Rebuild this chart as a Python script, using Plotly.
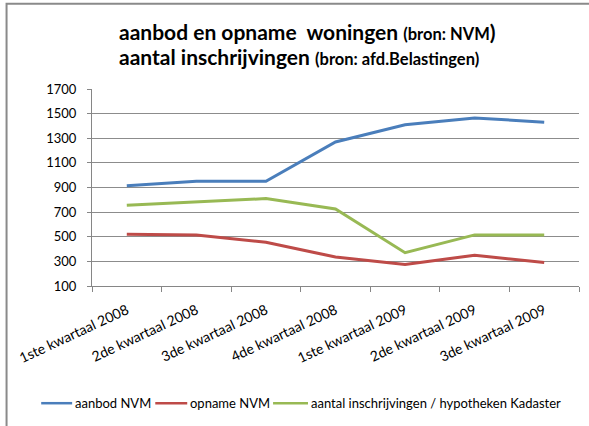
import plotly.graph_objects as go

categories = ["1ste kwartaal 2008", "2de kwartaal 2008", "3de kwartaal 2008", "4de kwartaal 2008",
              "1ste kwartaal 2009", "2de kwartaal 2009", "3de kwartaal 2009"]
aanbod = [915, 950, 950, 1270, 1410, 1465, 1430]
opname = [520, 515, 455, 335, 275, 350, 290]
inschrijvingen = [755, 785, 810, 725, 370, 515, 515]
y_ticks = [100, 300, 500, 700, 900, 1100, 1300, 1500, 1700]
series_names = ["aanbod NVM", "opname NVM", "aantal inschrijvingen / hypotheken Kadaster"]
series_colors = ["#4a7ebb", "#be4b48", "#98b954"]

FONT = "Lato, Carlito, Calibri, sans-serif"

fig = go.Figure()
for vals, name, col in zip([aanbod, opname, inschrijvingen], series_names, series_colors):
    fig.add_trace(go.Scatter(x=categories, y=vals, mode="lines", name=name,
                             line=dict(color=col, width=3), showlegend=False))

L, R, T, B = 91.6, 579.5, 89, 286.5
W, H = 589, 426
pw, ph = R - L, B - T

def px(x):
    return (x - L) / pw

def py(y):
    return (B - y) / ph

# manual legend (positions in pixels)
leg_y = 404
leg_lines = [(40.7, 71.7), (155, 187), (273, 308)]
shapes = [dict(type="rect", xref="paper", yref="paper", x0=px(6), x1=px(620), y0=py(460), y1=py(3.5),
               line=dict(color="#8a8a8a", width=2), fillcolor="rgba(0,0,0,0)", layer="below")]
annotations = [
    dict(xref="paper", yref="paper", x=px(117), y=py(31), xanchor="left", yanchor="middle",
         showarrow=False,
         text="<b>aanbod en opname&nbsp; woningen <span style='font-size:16.5px'>(bron: NVM</span>)</b>",
         font=dict(size=21, family=FONT)),
    dict(xref="paper", yref="paper", x=px(117), y=py(56), xanchor="left", yanchor="middle",
         showarrow=False,
         text="<b>aantal inschrijvingen <span style='font-size:16.5px'>(bron: afd.Belastingen)</span></b>",
         font=dict(size=21, family=FONT)),
]
for (x0, x1), name, col in zip(leg_lines, series_names, series_colors):
    shapes.append(dict(type="line", xref="paper", yref="paper", x0=px(x0), x1=px(x1),
                       y0=py(leg_y), y1=py(leg_y), line=dict(color=col, width=2.5)))
    annotations.append(dict(xref="paper", yref="paper", x=px(x1 + 1), y=py(leg_y), xanchor="left",
                            yanchor="middle", showarrow=False, text=name,
                            font=dict(size=13, family=FONT)))

fig.update_layout(
    width=W, height=H,
    margin=dict(l=L, r=W - R, t=T, b=H - B, autoexpand=False),
    paper_bgcolor="white", plot_bgcolor="white",
    font=dict(family=FONT, size=13, color="#000000"),
    showlegend=False,
    xaxis=dict(type="category", showgrid=False, showline=True, linecolor="#868686", linewidth=1,
               ticks="outside", tickson="boundaries", ticklen=5, tickcolor="#868686",
               tickangle=-25, tickfont=dict(size=14), ticklabelstandoff=10,
               range=[-0.5, 6.5], automargin=False),
    yaxis=dict(range=[100, 1700], tickvals=y_ticks, showgrid=True, gridcolor="#8c8c8c", gridwidth=1,
               showline=True, linecolor="#868686", linewidth=1, ticks="outside", ticklen=4,
               tickcolor="#868686", tickfont=dict(size=13), ticklabelstandoff=8, zeroline=False,
               automargin=False),
    shapes=shapes,
    annotations=annotations,
)

fig.write_html("out.html", config={"displayModeBar": False},
               post_script="document.body.style.margin='0';document.body.style.overflow='hidden';")
